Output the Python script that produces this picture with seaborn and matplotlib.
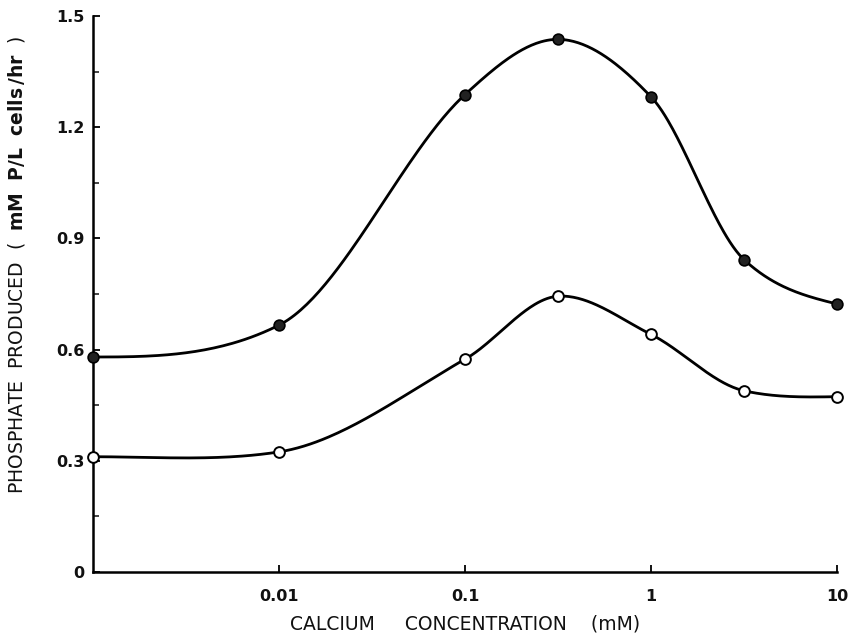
import numpy as np
import pandas as pd
import matplotlib
matplotlib.use("Agg")
import matplotlib.pyplot as plt
import seaborn as sns

# Data
calcium_mM = [0.001, 0.01, 0.1, 0.316, 1.0, 3.16, 10.0]
filled_series = [0.58, 0.666, 1.288, 1.437, 1.282, 0.843, 0.723]
open_series = [0.311, 0.324, 0.574, 0.744, 0.641, 0.489, 0.473]
y_ticks = [0, 0.3, 0.6, 0.9, 1.2, 1.5]
y_tick_labels = ["0", "0.3", "0.6", "0.9", "1.2", "1.5"]
x_ticks = [0.01, 0.1, 1, 10]
x_tick_labels = ["0.01", "0.1", "1", "10"]


def smooth_curve(x, y, n=60):
    """Hermite curve drawn through the points in log-x space (rendering only)."""
    x = np.asarray(x, float)
    y = np.asarray(y, float)
    m = len(x)
    d = np.diff(y) / np.diff(x)
    slopes = np.zeros(m)
    for i in range(1, m - 1):
        centered = (y[i + 1] - y[i - 1]) / (x[i + 1] - x[i - 1])
        if d[i - 1] * d[i] > 0:
            harmonic = 2.0 / (1.0 / d[i - 1] + 1.0 / d[i])
        else:
            harmonic = 0.0
        slopes[i] = 0.5 * (centered + harmonic)
    slopes[0] = 0.0
    slopes[-1] = (3 * d[-1] - slopes[-2]) / 2.0
    xs_all, ys_all = [], []
    for i in range(m - 1):
        h = x[i + 1] - x[i]
        t = np.linspace(0, 1, n, endpoint=(i == m - 2))
        h00 = 2 * t**3 - 3 * t**2 + 1
        h10 = t**3 - 2 * t**2 + t
        h01 = -2 * t**3 + 3 * t**2
        h11 = t**3 - t**2
        xs_all.append(x[i] + t * h)
        ys_all.append(h00 * y[i] + h10 * h * slopes[i] + h01 * y[i + 1] + h11 * h * slopes[i + 1])
    return np.concatenate(xs_all), np.concatenate(ys_all)


sns.set_style("ticks")
plt.rcParams["font.family"] = ["DejaVu Sans"]

fig = plt.figure(figsize=(8.49, 6.38), dpi=100)
ax = fig.add_axes([93 / 849, 1 - 572 / 638, (837 - 93) / 849, (572 - 16) / 638])

lx = np.log10(calcium_mM)
curves = []
for name, vals in [("filled", filled_series), ("open", open_series)]:
    xs, ys = smooth_curve(lx, vals)
    curves.append(pd.DataFrame({"x": 10 ** xs, "y": ys, "series": name}))
curve_df = pd.concat(curves, ignore_index=True)

sns.lineplot(data=curve_df, x="x", y="y", units="series", estimator=None,
             color="black", lw=2.0, ax=ax, legend=False, sort=False)

pts_filled = pd.DataFrame({"x": calcium_mM, "y": filled_series})
pts_open = pd.DataFrame({"x": calcium_mM, "y": open_series})
sns.scatterplot(data=pts_filled, x="x", y="y", s=60, color="#222222",
                edgecolor="black", linewidth=1.2, ax=ax, zorder=5, clip_on=False)
sns.scatterplot(data=pts_open, x="x", y="y", s=60, color="white",
                edgecolor="black", linewidth=1.4, ax=ax, zorder=5, clip_on=False)

ax.set_xscale("log")
ax.set_xlim(0.001, 10)
ax.set_ylim(0, 1.5)
ax.set_xticks(x_ticks)
ax.set_xticklabels(x_tick_labels)
ax.xaxis.set_minor_locator(matplotlib.ticker.NullLocator())
ax.set_yticks(y_ticks)
ax.set_yticklabels(y_tick_labels)
ax.set_yticks([0.15, 0.45, 0.75, 1.05, 1.35], minor=True)
ax.tick_params(axis="both", which="major", direction="in", length=5, width=1.3,
               labelsize=11.5, colors="black")
ax.tick_params(axis="x", which="major", pad=12)
ax.tick_params(axis="y", which="major", pad=6)
ax.tick_params(axis="y", which="minor", direction="in", length=4, width=1.2)
for lab in ax.get_xticklabels() + ax.get_yticklabels():
    lab.set_fontweight("bold")
    lab.set_color("#111111")

for s in ["top", "right"]:
    ax.spines[s].set_visible(False)
for s in ["left", "bottom"]:
    ax.spines[s].set_linewidth(1.8)
    ax.spines[s].set_color("black")

ax.set_xlabel("CALCIUM     CONCENTRATION    (mM)", fontsize=13.5, color="#111111")
ax.xaxis.set_label_coords(0.5, -(624 - 572) / 556)
ax.xaxis.label.set_va("center")
ax.set_ylabel("PHOSPHATE  PRODUCED  (  $\\mathbf{mM\\ \\ P/L\\ \\ cells\\,/hr}$  )",
              fontsize=13.5, color="#111111")
ax.yaxis.set_label_coords(-(93 - 17) / (837 - 93), (572 - 265) / 556)
ax.yaxis.label.set_va("center")

fig.savefig("out.png", dpi=100, facecolor="white")
